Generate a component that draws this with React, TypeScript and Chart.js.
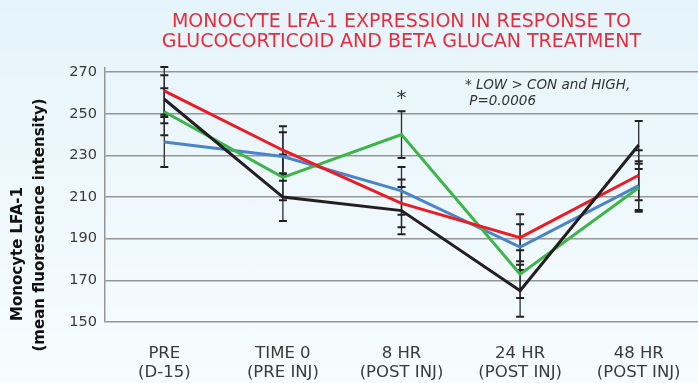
import React, { useEffect, useRef } from "react";
import { Chart, registerables } from "chart.js";

Chart.register(...registerables);

const categories = [
  ["PRE", "(D-15)"],
  ["TIME 0", "(PRE INJ)"],
  ["8 HR", "(POST INJ)"],
  ["24 HR", "(POST INJ)"],
  ["48 HR", "(POST INJ)"],
];
const blackValues = [257, 210, 203.5, 165, 235];
const redValues = [261, 232.5, 207, 190.5, 220.5];
const greenValues = [251, 219.5, 240, 173, 214.5];
const blueValues = [236.5, 229.5, 213, 186, 215.5];
const blackErrors = [11.5, 11.5, 11.3, 12.5, 11.5];
const redErrors = [11.5, 11.5, 11.5, 11.3, 12];
const greenErrors = [11.3, 11, 11.2, 11.5, 11.5];
const blueErrors = [12, 11.6, 11.5, 11, 11.7];
const yTicks = [150, 170, 190, 210, 230, 250, 270];
const titleLines = [
  "MONOCYTE LFA-1 EXPRESSION IN RESPONSE TO",
  "GLUCOCORTICOID AND BETA GLUCAN TREATMENT",
];
const yTitleLines = ["Monocyte LFA-1", "(mean fluorescence intensity)"];
const noteLines = ["* LOW > CON and HIGH,", " P=0.0006"];
const starCategoryIndex = 2;
const starText = "*";

const FONT = "'DejaVu Sans', sans-serif";

const errorBarsPlugin = {
  id: "errorBars",
  beforeDatasetsDraw(chart: any) {
    const ctx = chart.ctx;
    const y = chart.scales.y;
    chart.data.datasets.forEach((ds: any, i: number) => {
      const meta = chart.getDatasetMeta(i);
      const errs = ds.errors as number[];
      meta.data.forEach((pt: any, j: number) => {
        const v = ds.data[j];
        const top = y.getPixelForValue(v + errs[j]);
        const bot = y.getPixelForValue(v - errs[j]);
        ctx.save();
        ctx.strokeStyle = "#2a2a2a";
        ctx.lineWidth = 1.3;
        ctx.beginPath();
        ctx.moveTo(pt.x, top);
        ctx.lineTo(pt.x, bot);
        ctx.stroke();
        ctx.lineWidth = 2;
        ctx.strokeStyle = "#231f20";
        ctx.beginPath();
        ctx.moveTo(pt.x - 4, top);
        ctx.lineTo(pt.x + 4, top);
        ctx.moveTo(pt.x - 4, bot);
        ctx.lineTo(pt.x + 4, bot);
        ctx.stroke();
        ctx.restore();
      });
    });
  },
};

const textPlugin = {
  id: "texts",
  afterDraw(chart: any) {
    const ctx = chart.ctx;
    const area = chart.chartArea;
    const cx = (area.left + area.right) / 2;
    ctx.save();
    // title
    ctx.fillStyle = "#ec2b3a";
    ctx.font = `19px ${FONT}`;
    ctx.textAlign = "center";
    ctx.textBaseline = "alphabetic";
    ctx.fillText(titleLines[0], cx, 27);
    ctx.fillText(titleLines[1], cx, 47);
    // y title
    ctx.fillStyle = "#111";
    ctx.font = `bold 15px ${FONT}`;
    ctx.save();
    ctx.translate(18, 254);
    ctx.rotate(-Math.PI / 2);
    ctx.textBaseline = "middle";
    ctx.fillText(yTitleLines[0], 0, 0);
    ctx.restore();
    ctx.save();
    ctx.translate(40, 225);
    ctx.rotate(-Math.PI / 2);
    ctx.textBaseline = "middle";
    ctx.fillText(yTitleLines[1], 0, 0);
    ctx.restore();
    // star
    const x = chart.scales.x.getPixelForValue(starCategoryIndex);
    ctx.fillStyle = "#333";
    ctx.font = `20px ${FONT}`;
    ctx.textAlign = "center";
    ctx.textBaseline = "alphabetic";
    ctx.fillText(starText, x, 104);
    // note
    ctx.font = `italic 13.5px ${FONT}`;
    ctx.textAlign = "left";
    ctx.fillText(noteLines[0], 465, 89);
    ctx.fillText(noteLines[1], 465, 105);
    ctx.restore();
  },
};

export default function App() {
  const ref = useRef<HTMLCanvasElement | null>(null);
  useEffect(() => {
    document.body.style.margin = "0";
    const canvas = ref.current!;
    const mk = (label: string, data: number[], errors: number[], color: string) => ({
      label,
      data,
      errors,
      borderColor: color,
      backgroundColor: color,
      borderWidth: 3,
      pointRadius: 0,
      tension: 0,
      fill: false,
    });
    const chart = new Chart(canvas, {
      type: "line",
      data: {
        labels: categories as any,
        datasets: [
          mk("Black", blackValues, blackErrors, "#231f20"),
          mk("Red", redValues, redErrors, "#ed1c24"),
          mk("Green", greenValues, greenErrors, "#3db549"),
          mk("Blue", blueValues, blueErrors, "#4a86c7"),
        ] as any,
      },
      options: {
        responsive: false,
        animation: false,
        layout: { padding: { top: 68, left: 0, right: 0, bottom: 0 } },
        plugins: { legend: { display: false }, title: { display: false }, tooltip: { enabled: false } },
        scales: {
          x: {
            type: "category",
            offset: true,
            grid: { display: false },
            border: { display: false },
            ticks: {
              color: "#3a3a3a",
              font: { family: FONT, size: 16.5, lineHeight: 1.1 },
              padding: 15,
              maxRotation: 0,
              autoSkip: false,
            },
            afterFit: (s: any) => {
              s.height = 61;
            },
          },
          y: {
            min: 150,
            max: 272,
            afterBuildTicks: (s: any) => {
              s.ticks = yTicks.map((v) => ({ value: v }));
            },
            grid: { color: "#959595", lineWidth: 1.5, drawTicks: false },
            border: { display: true, color: "#959595", width: 1.5 },
            ticks: {
              color: "#3a3a3a",
              font: { family: FONT, size: 14.5 },
              padding: 8,
            },
            afterFit: (s: any) => {
              s.width = 105;
            },
          },
        },
      } as any,
      plugins: [errorBarsPlugin, textPlugin],
    });
    return () => chart.destroy();
  }, []);
  return (
    <div
      style={{
        width: 698,
        height: 383,
        background: "linear-gradient(#e5f4fb, #f7fcfe)",
      }}
    >
      <canvas ref={ref} width={698} height={383} style={{ display: "block" }} />
    </div>
  );
}
